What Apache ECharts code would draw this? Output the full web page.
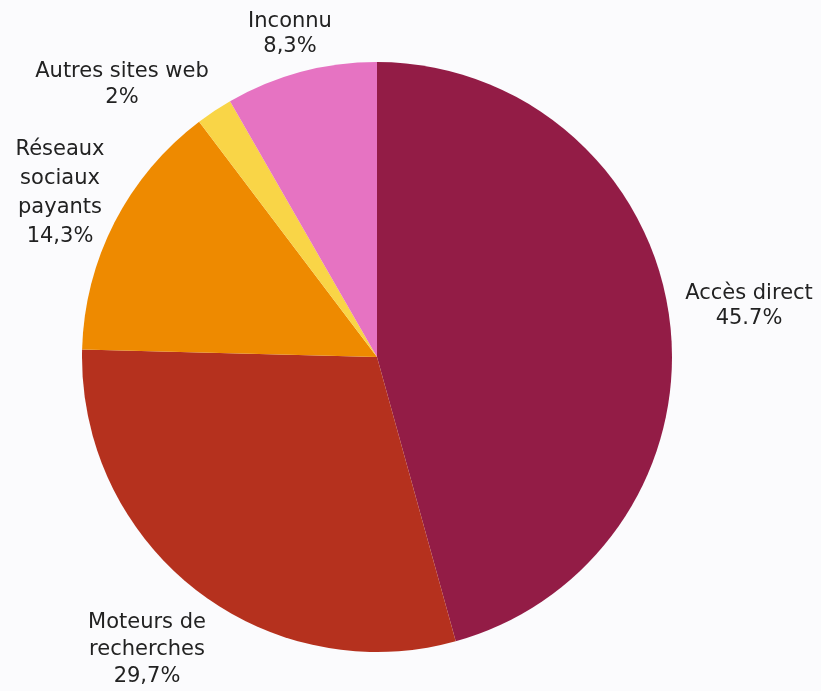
<!DOCTYPE html>
<html>
<head>
<meta charset="utf-8">
<script src="https://cdn.jsdelivr.net/npm/echarts@6/dist/echarts.min.js"></script>
<style>
html,body{margin:0;padding:0;background:#fbfbfd;}
#main{width:821px;height:691px;}
</style>
</head>
<body>
<div id="main"></div>
<script>
var myChart=echarts.init(document.getElementById('main'))
var names=['Accès direct','Moteurs de\nrecherches','Réseaux\nsociaux\npayants','Autres sites web','Inconnu']
var values=[45.7,29.7,14.3,2,8.3]
var valueLabels=['45.7%','29,7%','14,3%','2%','8,3%']
var colors=['#931c46','#b5311e','#ee8a00','#f9d547','#e673c2']
// label placement: [x, y, lineHeight]
var labelPos=[[749,306,25],[147,650,27],[60,193,29],[122,85,26],[290,34,25]]

var data=names.map(function(n,i){
    return {name:n,value:values[i],itemStyle:{color:colors[i]},label:{lineHeight:labelPos[i][2]}}
})

var option={
    backgroundColor:'#fbfbfd',
    animation:false,
    series:[
        {
            type:'pie',
            center:[377,357],
            radius:[0,295],
            startAngle:90,
            clockwise:true,
            data:data,
            label:{
                show:true,
                position:'outside',
                fontFamily:'DejaVu Sans',
                fontSize:21,
                color:'#222',
                align:'center',
                formatter:function(p){
                    return p.name+'\n'+valueLabels[p.dataIndex]
                }
            },
            labelLine:{show:false,length:8,length2:0},
            labelLayout:function(p){
                var q=labelPos[p.dataIndex]
                return {x:q[0],y:q[1],align:'center',verticalAlign:'middle'}
            }
        }
    ]
}
myChart.setOption(option)
</script>
</body>
</html>
